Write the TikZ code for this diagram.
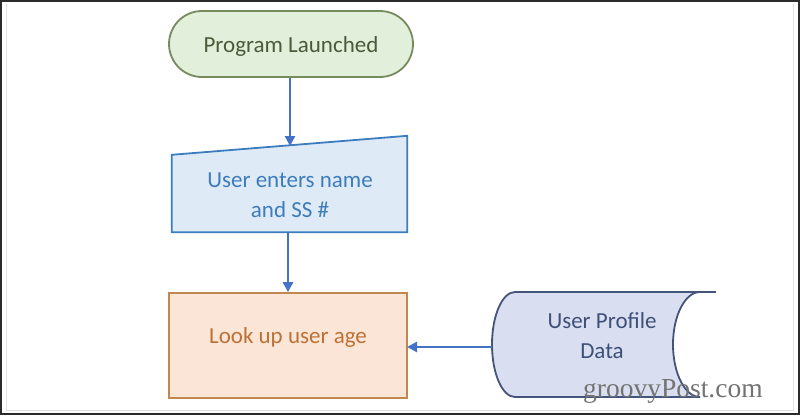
\documentclass[tikz,border=0pt]{standalone}
\usepackage{fontspec}
\setmainfont{Carlito}
\newfontfamily\wmfont{Liberation Serif}
\usetikzlibrary{arrows.meta,calc}
\definecolor{termfill}{HTML}{E2EFDA}
\definecolor{termdraw}{HTML}{768C5E}
\definecolor{termtext}{HTML}{4A5A3A}
\definecolor{infill}{HTML}{DEEBF7}
\definecolor{indraw}{HTML}{3C7DBF}
\definecolor{intext}{HTML}{3E7CBA}
\definecolor{procfill}{HTML}{FBE5D6}
\definecolor{procdraw}{HTML}{C0874F}
\definecolor{proctext}{HTML}{BC7236}
\definecolor{storefill}{HTML}{D9DFF0}
\definecolor{storedraw}{HTML}{44547A}
\definecolor{storetext}{HTML}{3F5078}
\definecolor{arrowblue}{HTML}{4472C4}
\definecolor{framegray}{HTML}{2B2B2B}
\tikzset{
  flowtext/.style={font=\fontsize{23}{30}\selectfont, align=center, inner sep=0pt},
  terminal/.style={flowtext, draw=termdraw, fill=termfill, text=termtext, line width=1.8pt,
    rounded corners=33pt, minimum width=244pt, minimum height=66pt, text height=17pt, text depth=0pt},
  procbox/.style={flowtext, draw=procdraw, fill=procfill, text=proctext, line width=1.8pt,
    minimum width=238pt, minimum height=105pt, text height=10pt, text depth=15pt},
  flowarrow/.style={draw=arrowblue, line width=2.8pt, -{Triangle[length=10pt,width=10pt]}},
  shapeline/.style={line width=1.8pt}
}
\begin{document}
\begin{tikzpicture}[x=1pt,y=-1pt]
\useasboundingbox (0,0) rectangle (800,415);
\fill[white] (0,0) rectangle (800,415);
% frame
\draw[framegray, line width=2.2pt] (1.1,1.1) rectangle (798.9,413.9);
\draw[black!12, line width=0.8pt] (6,4) -- (6,410) -- (793,410) -- (793,4);

% terminator
\node[terminal] (start) at (291,44) {Program Launched};

% manual input
\node[flowtext, minimum width=235pt, minimum height=96pt] (input) at (289.5,184) {};
\filldraw[shapeline, draw=indraw, fill=infill]
  (input.south west) -- (input.south east) -- (input.north east)
  -- ($(input.north west)+(0,19)$) -- cycle;
\node[flowtext, text=intext] (inputtext) at (290,195) {User enters name\\and SS \#};
\coordinate (inputtop) at (290,146);

% process
\node[procbox] (proc) at (288,345.5) {Look up user age};

% stored data
\node[flowtext, minimum width=208pt, minimum height=105pt] (store) at (596,344.5) {};
\filldraw[shapeline, draw=storedraw, fill=storefill]
  (515,292) arc[start angle=270, end angle=90, x radius=23, y radius=52.5]
  -- (700,397) arc[start angle=90, end angle=270, x radius=27, y radius=52.5]
  -- cycle;
\draw[shapeline, draw=storedraw] (699,292) -- (716,292);
\node[flowtext, text=storetext] (storetext) at (602,336) {User Profile\\Data};
\coordinate (storeleft) at (492,347);
\coordinate (procright) at (407,347);

% connectors
\draw[flowarrow] (start.south -| inputtop) -- (inputtop);
\draw[flowarrow] (input.south -| 288,0) -- (proc.north -| 288,0);
\draw[flowarrow] (storeleft) -- (procright);

% watermark
\node[anchor=base west, inner sep=0pt, font=\wmfont\fontsize{27.5}{27.5}\selectfont, text=black!55] (wm) at (583,397) {groovyPost.com};
\end{tikzpicture}
\end{document}
